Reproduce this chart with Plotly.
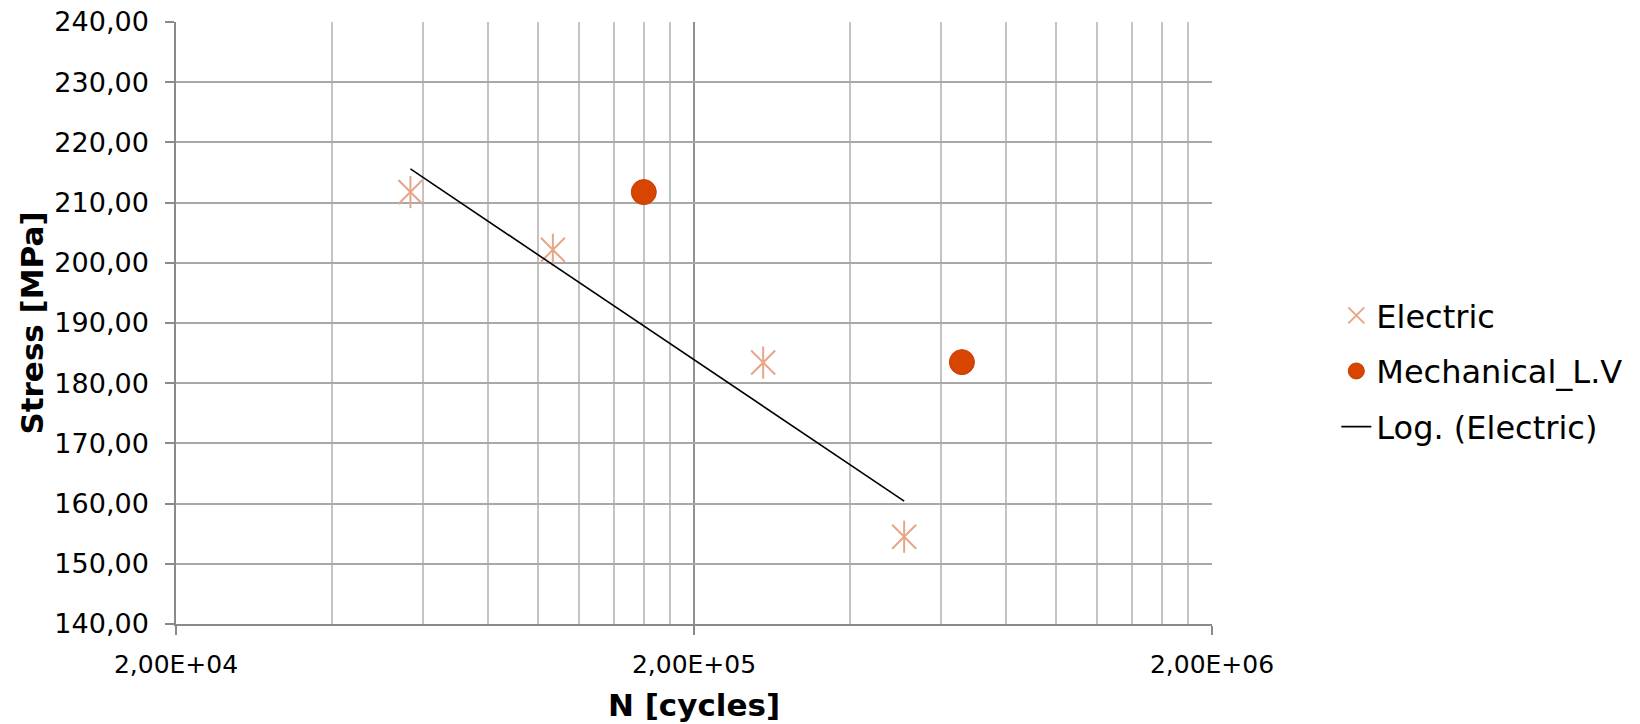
import numpy as np
import plotly.graph_objects as go

# Data
electric_n = [5.67e4, 1.068e5, 2.72e5, 5.09e5]
electric_stress = [211.75, 202.16, 183.43, 154.5]
mech_n = [1.60e5, 6.58e5]
mech_stress = [211.75, 183.5]

y_ticks = [140, 150, 160, 170, 180, 190, 200, 210, 220, 230, 240]
y_ticklabels = [f"{v},00" for v in y_ticks]
x_ticks = [2e4, 2e5, 2e6]
x_ticklabels = ["2,00E+04", "2,00E+05", "2,00E+06"]
x_minor = [2e4 * k for k in range(2, 10)] + [2e5 * k for k in range(2, 10)]

# Logarithmic trend line (Excel "Log." trendline: y = a*ln(x) + b)
a, b = np.polyfit(np.log(electric_n), electric_stress, 1)
trend_x = [min(electric_n), max(electric_n)]
trend_y = [a * np.log(v) + b for v in trend_x]

FONT = "DejaVu Sans"
STAR = "#E8A587"

fig = go.Figure()
# six-armed Excel-like star: diagonal cross + vertical bar
fig.add_trace(go.Scatter(
    x=electric_n, y=electric_stress, mode="markers", name="Electric",
    legendgroup="a",
    marker=dict(symbol="x-thin-open", size=24, color=STAR,
                line=dict(color=STAR, width=2)),
))
fig.add_trace(go.Scatter(
    x=electric_n, y=electric_stress, mode="markers", name="Electric",
    legendgroup="a", showlegend=False, hoverinfo="skip",
    marker=dict(symbol="line-ns-open", size=23, color=STAR,
                line=dict(color=STAR, width=2)),
))
fig.add_trace(go.Scatter(
    x=mech_n, y=mech_stress, mode="markers", name="Mechanical_L.V",
    legendgroup="b",
    marker=dict(symbol="circle", size=25, color="#D84500",
                line=dict(color="#C23E00", width=1)),
))
fig.add_trace(go.Scatter(
    x=trend_x, y=trend_y, mode="lines", name="Log. (Electric)",
    legendgroup="c",
    line=dict(color="black", width=1.6),
))

fig.update_layout(
    width=1640, height=724,
    margin=dict(l=176, r=426, t=22, b=100),
    paper_bgcolor="white", plot_bgcolor="white",
    font=dict(family=FONT, size=25, color="black"),
    legend=dict(x=1.12, y=0.558, xanchor="left", yanchor="top",
                font=dict(size=32), tracegroupgap=11,
                bgcolor="rgba(0,0,0,0)"),
    xaxis=dict(
        type="log", range=[np.log10(2e4), np.log10(2e6)],
        automargin=False,
        tickmode="array", tickvals=x_ticks, ticktext=x_ticklabels,
        ticks="outside", ticklen=9, tickcolor="#8a8a8a", tickwidth=1.5,
        ticklabelstandoff=8,
        showgrid=True, gridcolor="#909090", gridwidth=1.5,
        showline=True, linecolor="#8a8a8a", linewidth=1.5,
        zeroline=False,
        minor=dict(tickmode="array", tickvals=x_minor, showgrid=True,
                   gridcolor="#c4c4c4", gridwidth=1.5, ticks=""),
        title=dict(text="<b>N [cycles]</b>", font=dict(size=31), standoff=17),
        tickfont=dict(size=25),
    ),
    yaxis=dict(
        range=[140, 240], automargin=False,
        tickmode="array", tickvals=y_ticks, ticktext=y_ticklabels,
        ticks="outside", ticklen=9, tickcolor="#8a8a8a", tickwidth=1.5,
        ticklabelstandoff=11,
        showgrid=True, gridcolor="#a8a8a8", gridwidth=1.5,
        showline=True, linecolor="#8a8a8a", linewidth=1.5,
        zeroline=False,
        title=dict(text="<b>Stress [MPa]</b>", font=dict(size=31), standoff=2),
        tickfont=dict(size=27),
    ),
)

# remove the default browser page margin so the figure sits at the page origin
fig.write_html("out.html",
               config={"displayModeBar": False},
               post_script="document.body.style.margin='0';"
                           "document.body.style.overflow='hidden';")
